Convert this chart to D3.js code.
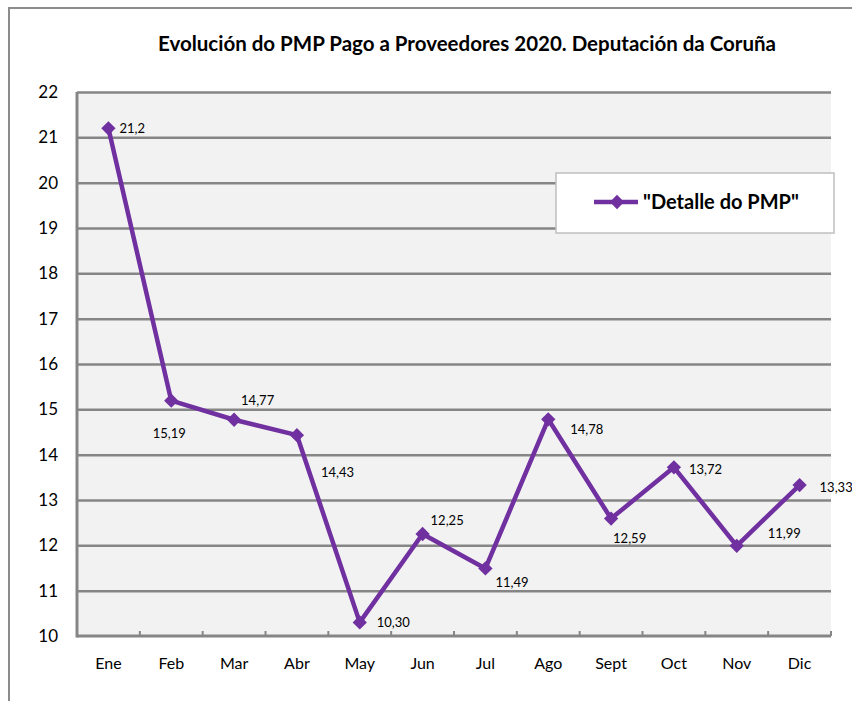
<!DOCTYPE html>
<html>
<head>
<meta charset="utf-8">
<script src="https://cdn.jsdelivr.net/npm/d3@7"></script>
<style>
  body { margin: 0; background: #fff; }
  svg { display: block; font-family: Lato, "Open Sans", sans-serif; }
</style>
</head>
<body>
<svg id="chart" width="852" height="701"></svg>
<script>
const months = ["Ene", "Feb", "Mar", "Abr", "May", "Jun", "Jul", "Ago", "Sept", "Oct", "Nov", "Dic"];
const pmp = [21.2, 15.19, 14.77, 14.43, 10.30, 12.25, 11.49, 14.78, 12.59, 13.72, 11.99, 13.33];
const pmpLabels = ["21,2", "15,19", "14,77", "14,43", "10,30", "12,25", "11,49", "14,78", "12,59", "13,72", "11,99", "13,33"];
const yTicks = [10, 11, 12, 13, 14, 15, 16, 17, 18, 19, 20, 21, 22];
const seriesName = "\"Detalle do PMP\"";
const title = "Evolución do PMP Pago a Proveedores 2020. Deputación da Coruña";

// where each data label sits relative to its point (dx, dy, anchor)
const labelPlace = [
  [11, 0, "start"], [-2, 33, "middle"], [7, -19, "start"], [24, 37, "start"],
  [17, 0, "start"], [8, -14, "start"], [10, 14, "start"], [22, 10, "start"],
  [2, 20, "start"], [15, 2, "start"], [31, -12, "start"], [20, 2, "start"]
];

const purple = "#7030a0";
const grid = "#868686";

const svg = d3.select("#chart");
const margin = { left: 77, top: 92, right: 852 - 831, bottom: 701 - 636 };
const W = 852 - margin.left - margin.right;
const H = 701 - margin.top - margin.bottom;

// outer chart frame (runs off the right and bottom edges)
svg.append("rect")
  .attr("x", 9).attr("y", 8)
  .attr("width", 900).attr("height", 800)
  .attr("fill", "#fff")
  .attr("stroke", "#8c8c8c")
  .attr("stroke-width", 2);

svg.append("text")
  .attr("x", 467).attr("y", 51)
  .attr("text-anchor", "middle")
  .attr("font-size", 20.5)
  .attr("font-weight", "bold")
  .attr("fill", "#000")
  .text(title);

const g = svg.append("g").attr("transform", `translate(${margin.left},${margin.top})`);

const x = d3.scaleBand().domain(months).range([0, W]);
const y = d3.scaleLinear().domain([10, 22]).range([H, 0]);

g.append("rect").attr("width", W).attr("height", H).attr("fill", "#f2f2f2");

// horizontal gridlines
g.append("g")
  .call(d3.axisLeft(y).tickValues(yTicks.slice(1)).tickSize(-W).tickFormat(""))
  .call(s => s.select(".domain").remove())
  .call(s => s.selectAll("line").attr("stroke", grid).attr("stroke-width", 2.5));

// y labels
g.append("g")
  .call(d3.axisLeft(y).tickValues(yTicks).tickSize(0).tickPadding(19))
  .call(s => s.select(".domain").remove())
  .call(s => s.selectAll("text").attr("font-size", 17).attr("fill", "#000")
    .attr("font-family", "Lato, sans-serif"));

// x labels
g.append("g")
  .attr("transform", `translate(0,${H})`)
  .call(d3.axisBottom(x).tickSize(0).tickPadding(22))
  .call(s => s.select(".domain").remove())
  .call(s => s.selectAll("text").attr("font-size", 16).attr("fill", "#000")
    .attr("font-family", "Lato, sans-serif"));

// boundary ticks on the category axis
const bounds = months.map(m => x(m)).concat([W]).slice(1);
g.append("g").selectAll("line").data(bounds).join("line")
  .attr("x1", d => d).attr("x2", d => d)
  .attr("y1", H - 5).attr("y2", H)
  .attr("stroke", grid).attr("stroke-width", 2);

// axis lines
g.append("line").attr("x1", 0).attr("x2", 0).attr("y1", 0).attr("y2", H + 1.5)
  .attr("stroke", grid).attr("stroke-width", 3);
g.append("line").attr("x1", 0).attr("x2", W).attr("y1", H).attr("y2", H)
  .attr("stroke", grid).attr("stroke-width", 3);

const cx = (d, i) => x(months[i]) + x.bandwidth() / 2;

const line = d3.line().x(cx).y(d => y(d));
g.append("path").datum(pmp)
  .attr("d", line)
  .attr("fill", "none")
  .attr("stroke", purple)
  .attr("stroke-width", 4.5)
  .attr("stroke-linejoin", "round");

const diamond = d3.symbol().type(d3.symbolDiamond2).size(130);
g.append("g").selectAll("path").data(pmp).join("path")
  .attr("transform", (d, i) => `translate(${cx(d, i)},${y(d)})`)
  .attr("d", diamond)
  .attr("fill", purple);

g.append("g").selectAll("text").data(pmp).join("text")
  .attr("x", (d, i) => cx(d, i) + labelPlace[i][0])
  .attr("y", (d, i) => y(d) + labelPlace[i][1])
  .attr("dy", "0.35em")
  .attr("text-anchor", (d, i) => labelPlace[i][2])
  .attr("font-size", 13)
  .attr("fill", "#000")
  .text((d, i) => pmpLabels[i]);

// legend
const lg = svg.append("g").attr("transform", "translate(556,173)");
lg.append("rect").attr("width", 278).attr("height", 60)
  .attr("fill", "#fff").attr("stroke", "#bfbfbf").attr("stroke-width", 1.5);
lg.append("line").attr("x1", 38).attr("x2", 82).attr("y1", 29).attr("y2", 29)
  .attr("stroke", purple).attr("stroke-width", 4.5);
lg.append("path").attr("transform", "translate(61,29)").attr("d", diamond).attr("fill", purple);
lg.append("text").attr("x", 87).attr("y", 29).attr("dy", "0.35em")
  .attr("font-size", 20).attr("font-weight", "bold").attr("fill", "#000")
  .text(seriesName);
</script>
</body>
</html>
